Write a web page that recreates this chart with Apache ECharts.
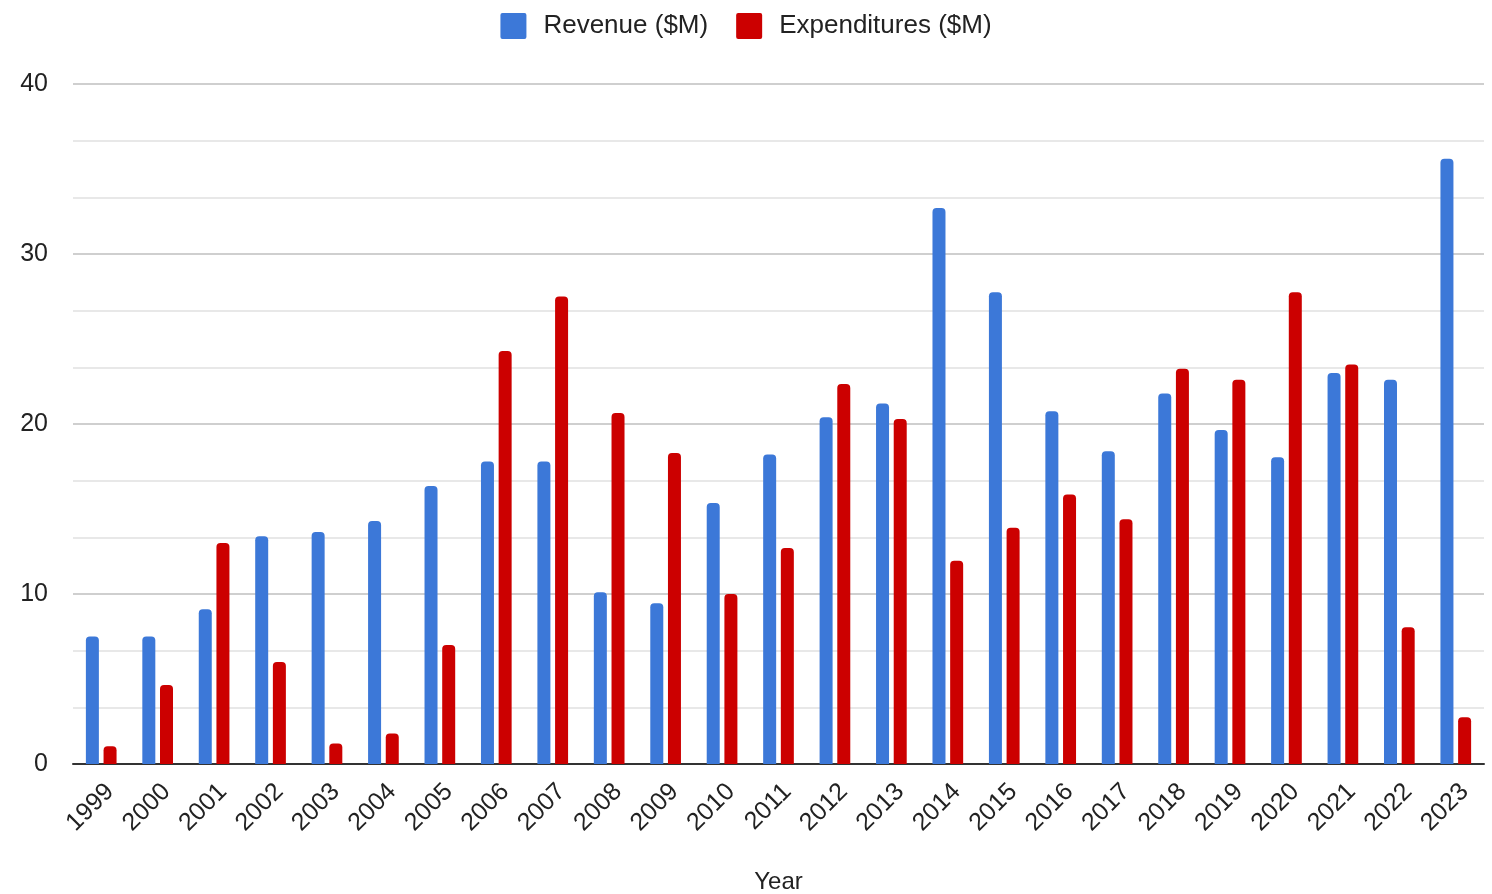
<!DOCTYPE html>
<html>
<head>
<meta charset="utf-8">
<script src="https://cdn.jsdelivr.net/npm/echarts@6/dist/echarts.min.js"></script>
<style>
  html, body { margin: 0; padding: 0; background: #fff; }
  #chart { width: 1492px; height: 894px; }
</style>
</head>
<body>
<div id="chart"></div>
<script>
const years = ['1999', '2000', '2001', '2002', '2003', '2004', '2005', '2006', '2007', '2008',
  '2009', '2010', '2011', '2012', '2013', '2014', '2015', '2016', '2017', '2018',
  '2019', '2020', '2021', '2022', '2023']
const revenue = [7.5, 7.5, 9.1, 13.4, 13.65, 14.3, 16.35, 17.8, 17.8, 10.1,
  9.45, 15.35, 18.2, 20.4, 21.2, 32.7, 27.75, 20.75, 18.4, 21.8,
  19.65, 18.05, 23.0, 22.6, 35.6]
const expenditures = [1.05, 4.65, 13.0, 6.0, 1.2, 1.8, 7.0, 24.3, 27.5, 20.65,
  18.3, 10.0, 12.7, 22.35, 20.3, 11.95, 13.9, 15.85, 14.4, 23.25,
  22.6, 27.75, 23.5, 8.05, 2.75]
const yTicks = [0, 10, 20, 30, 40]

const font = 'Liberation Sans, Arial, sans-serif'
// small square with slightly rounded corners, like the sheets legend
const legendIcon = 'path://M0 2a2 2 0 0 1 2 -2h22a2 2 0 0 1 2 2v22a2 2 0 0 1 -2 2h-22a2 2 0 0 1 -2 -2z'
const myChart = echarts.init(document.getElementById('chart'))
const option = {
  animation: false,
  textStyle: { fontFamily: font },
  legend: {
    top: 8,
    left: 'center',
    itemWidth: 26,
    itemHeight: 26,
    itemGap: 28,
    icon: legendIcon,
    textStyle: { fontSize: 26, color: '#222', fontFamily: font, padding: [0, 0, 0, 12] },
    data: ['Revenue ($M)', 'Expenditures ($M)']
  },
  grid: {
    top: 84,
    left: 73,
    right: 8,
    bottom: 130,
    outerBoundsMode: 'none'
  },
  xAxis: {
    type: 'category',
    data: years,
    name: 'Year',
    nameLocation: 'middle',
    nameGap: 106,
    nameTextStyle: { fontSize: 24, color: '#222', fontFamily: font },
    axisLine: { show: true, lineStyle: { color: '#333', width: 2 } },
    axisTick: { show: false },
    axisLabel: {
      rotate: 45,
      fontSize: 25,
      color: '#222',
      fontFamily: font,
      margin: 15,
      verticalAlign: 'top',
      interval: 0
    }
  },
  yAxis: {
    type: 'value',
    min: yTicks[0],
    max: yTicks[yTicks.length - 1],
    interval: 10,
    axisLine: { show: false },
    axisTick: { show: false },
    axisLabel: { fontSize: 25, color: '#222', fontFamily: font, margin: 25 },
    splitLine: { show: true, lineStyle: { color: '#cfcfcf', width: 2 } },
    minorTick: { show: false, splitNumber: 3 },
    minorSplitLine: { show: true, lineStyle: { color: '#e8e8e8', width: 2 } }
  },
  series: [
    {
      name: 'Revenue ($M)',
      type: 'bar',
      barWidth: 13,
      barGap: '36%',
      itemStyle: { color: '#3c78d8', borderRadius: [4, 4, 0, 0] },
      data: revenue
    },
    {
      name: 'Expenditures ($M)',
      type: 'bar',
      barWidth: 13,
      barGap: '36%',
      itemStyle: { color: '#cc0000', borderRadius: [4, 4, 0, 0] },
      data: expenditures
    }
  ]
}
myChart.setOption(option)
window.onresize = myChart.resize
</script>
</body>
</html>
